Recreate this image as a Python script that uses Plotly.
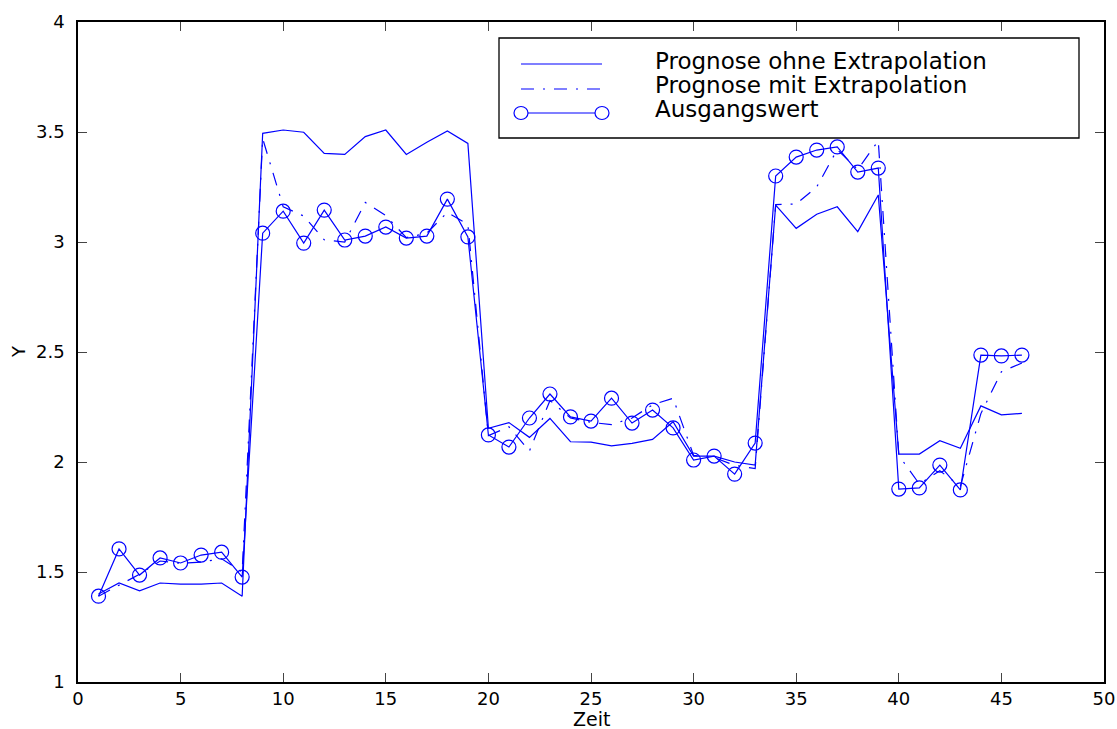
import plotly.graph_objects as go

zeit = list(range(1, 47))

ausgangswert = [1.39, 1.605, 1.486, 1.564, 1.541, 1.577, 1.59, 1.477,
                3.04, 3.14, 2.995, 3.145, 3.009, 3.027, 3.068, 3.018, 3.027, 3.195, 3.023,
                2.123, 2.068, 2.20, 2.309, 2.205, 2.186, 2.29, 2.177, 2.236, 2.155,
                2.009, 2.027, 1.945, 2.086,
                3.30, 3.386, 3.418, 3.432, 3.318, 3.336,
                1.877, 1.882, 1.986, 1.873,
                2.486, 2.482, 2.486]

ohne_extrapolation = [1.40, 1.45, 1.414, 1.45, 1.445, 1.445, 1.45, 1.39,
                      3.494, 3.509, 3.499, 3.403, 3.398, 3.479, 3.509, 3.398, 3.453, 3.505, 3.448,
                      2.153, 2.179, 2.112, 2.198, 2.092, 2.09, 2.073, 2.085, 2.103, 2.183,
                      2.027, 2.027, 2.0, 1.986,
                      3.168, 3.062, 3.126, 3.16, 3.047, 3.214,
                      2.036, 2.036, 2.097, 2.062,
                      2.255, 2.214, 2.221]

mit_extrapolation = [1.39, 1.44, 1.49, 1.55, 1.54, 1.545, 1.56, 1.50,
                     3.47, 3.16, 3.118, 3.01, 3.0, 3.18, 3.12, 3.02, 3.04, 3.135, 3.08,
                     2.12, 2.16, 2.05, 2.28, 2.2, 2.18, 2.17, 2.2, 2.26, 2.29,
                     2.03, 2.02, 1.985, 1.97,
                     3.17, 3.173, 3.25, 3.42, 3.33, 3.46,
                     2.03, 1.90, 1.96, 1.89,
                     2.22, 2.41, 2.45]

legend_labels = ["Prognose ohne Extrapolation", "Prognose mit Extrapolation", "Ausgangswert"]
x_title = "Zeit"
y_title = "Y"

BLUE = "rgb(0,0,255)"
DASHDOT = "13px,9px,2px,9px"
FONT = "DejaVu Sans, Liberation Sans, Arial, sans-serif"

fig = go.Figure()
fig.add_trace(go.Scatter(x=zeit, y=ohne_extrapolation, mode="lines",
                         line=dict(color=BLUE, width=1.2), name=legend_labels[0], showlegend=False))
fig.add_trace(go.Scatter(x=zeit, y=mit_extrapolation, mode="lines",
                         line=dict(color=BLUE, width=1.2, dash=DASHDOT), name=legend_labels[1], showlegend=False))
fig.add_trace(go.Scatter(x=zeit, y=ausgangswert, mode="lines+markers",
                         line=dict(color=BLUE, width=1.2),
                         marker=dict(symbol="circle-open", size=14, color=BLUE, line=dict(width=1.2)),
                         name=legend_labels[2], showlegend=False))

# plot area in page pixels
W, H = 1117, 729
L, R, T, B = 78, 1104, 22, 682
def px(xp):
    return (xp - L) / (R - L)
def py(yp):
    return (B - yp) / (B - T)

shapes = [
    dict(type="rect", xref="paper", yref="paper", x0=px(499), x1=px(1079), y0=py(138), y1=py(38),
         line=dict(color="black", width=1.3), fillcolor="white", layer="above"),
    dict(type="line", xref="paper", yref="paper", x0=px(521), x1=px(602), y0=py(64), y1=py(64),
         line=dict(color=BLUE, width=1.2), layer="above"),
    dict(type="line", xref="paper", yref="paper", x0=px(521), x1=px(602), y0=py(89), y1=py(89),
         line=dict(color=BLUE, width=1.2, dash=DASHDOT), layer="above"),
    dict(type="line", xref="paper", yref="paper", x0=px(521), x1=px(602), y0=py(113), y1=py(113),
         line=dict(color=BLUE, width=1.2), layer="above"),
]
for cx in (521, 602):
    shapes.append(dict(type="circle", xref="paper", yref="paper", xsizemode="pixel", ysizemode="pixel",
                       xanchor=px(cx), yanchor=py(113), x0=-7, x1=7, y0=-6.5, y1=6.5,
                       line=dict(color=BLUE, width=1.2), fillcolor="white", layer="above"))

annotations = []
for lbl, yy in zip(legend_labels, (61, 85, 109)):
    annotations.append(dict(text=lbl, xref="paper", yref="paper", x=px(653), y=py(yy),
                            xanchor="left", yanchor="middle", showarrow=False,
                            font=dict(family=FONT, size=23, color="black")))
annotations.append(dict(text=x_title, xref="paper", yref="paper", x=px(591), y=py(719),
                        xanchor="center", yanchor="middle", showarrow=False,
                        font=dict(family=FONT, size=19, color="black")))
annotations.append(dict(text=y_title, xref="paper", yref="paper", x=px(18), y=py(352),
                        xanchor="center", yanchor="middle", showarrow=False, textangle=-90,
                        font=dict(family=FONT, size=18, color="black")))

fig.update_layout(
    width=W, height=H,
    margin=dict(l=L, r=W - R, t=T, b=H - B),
    paper_bgcolor="white", plot_bgcolor="white",
    font=dict(family=FONT, size=18, color="black"),
    shapes=shapes, annotations=annotations,
    showlegend=False,
)
fig.update_xaxes(range=[0, 50], tickvals=list(range(0, 51, 5)), ticks="inside", ticklen=9,
                 showline=True, linecolor="black", linewidth=1.5, mirror="ticks", showgrid=False,
                 zeroline=False, tickfont=dict(size=18), automargin=False)
fig.update_yaxes(range=[1, 4], tickvals=[1, 1.5, 2, 2.5, 3, 3.5, 4], ticks="inside", ticklen=9,
                 showline=True, linecolor="black", linewidth=1.5, mirror="ticks", showgrid=False,
                 zeroline=False, tickfont=dict(size=18), automargin=False, ticklabelstandoff=8)

fig.write_html("out.html", config={"displayModeBar": False},
               post_script="document.body.style.margin='0';document.body.style.overflow='hidden';")
